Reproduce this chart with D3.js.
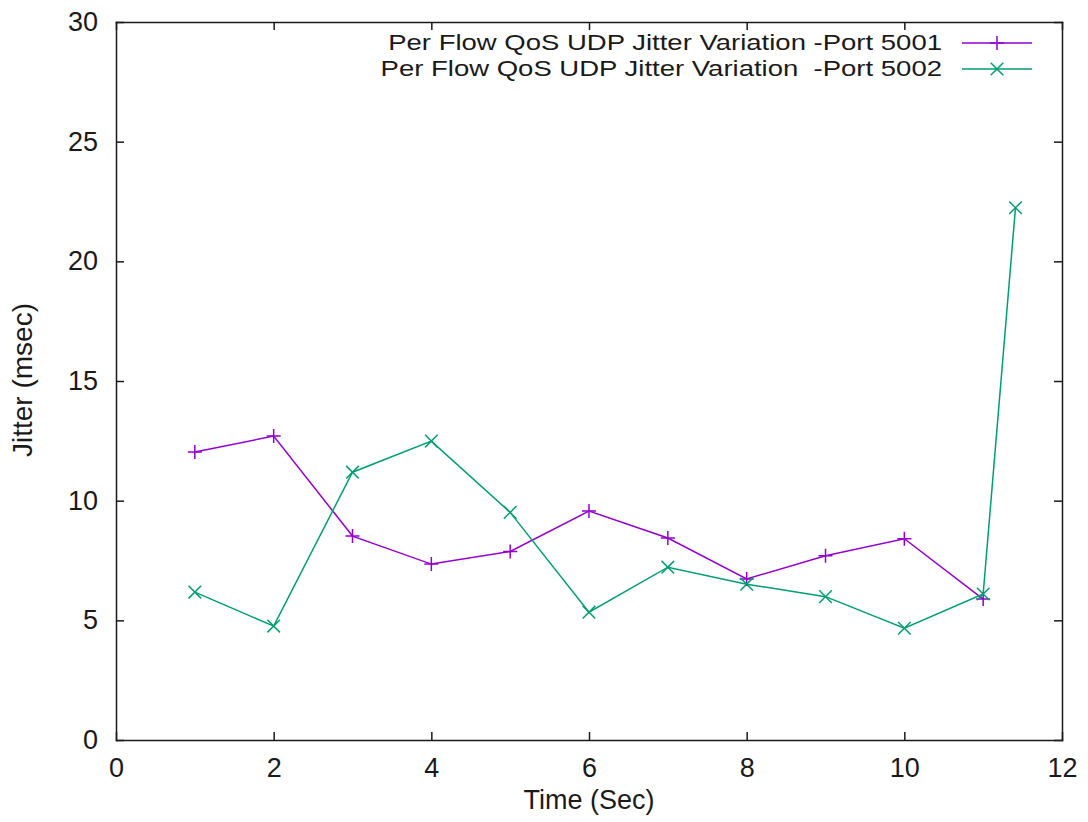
<html>
<head>
  <meta charset="utf-8">
  <title>Per Flow QoS UDP Jitter</title>
  <script src="https://d3js.org/d3.v7.min.js"></script>
  <style>
    body { margin: 0; background: #fff; }
    text { font-family: "Liberation Sans", Arial, sans-serif; fill: #1a1a1a; }
    .axis path, .axis line { stroke: #1a1a1a; stroke-width: 1.5; }
    .line { fill: none; stroke-width: 1.5; }
  </style>
</head>
<body>
  <div id="chart"></div>
  <script>
    // data
    var xTicks = [0, 2, 4, 6, 8, 10, 12];
    var yTicks = [0, 5, 10, 15, 20, 25, 30];

    var time5001 = [1, 2, 3, 4, 5, 6, 7, 8, 9, 10, 11];
    var jitter5001 = [12.03, 12.70, 8.52, 7.35, 7.88, 9.57, 8.44, 6.73, 7.70, 8.41, 5.89];

    var time5002 = [1, 2, 3, 4, 5, 6, 7, 8, 9, 10, 11, 11.41];
    var jitter5002 = [6.18, 4.76, 11.19, 12.49, 9.51, 5.34, 7.22, 6.51, 5.99, 4.67, 6.10, 22.24];

    var seriesNames = ["Per Flow QoS UDP Jitter Variation -Port 5001",
                       "Per Flow QoS UDP Jitter Variation  -Port 5002"];
    var seriesColors = ["#9400d3", "#009e73"];

    var margin = {top: 22, right: 26, bottom: 82, left: 116},
        width = 1088 - margin.left - margin.right,
        height = 822 - margin.top - margin.bottom;

    var x = d3.scaleLinear().domain([0, 12]).range([0, width]);
    var y = d3.scaleLinear().domain([0, 30]).range([height, 0]);

    var svg = d3.select("#chart")
        .append("svg")
            .attr("width", width + margin.left + margin.right)
            .attr("height", height + margin.top + margin.bottom)
        .append("g")
            .attr("transform", "translate(" + margin.left + "," + margin.top + ")");

    // axes, ticks pointing inward on all four sides
    svg.append("g")
        .attr("class", "axis")
        .attr("transform", "translate(0," + height + ")")
        .call(d3.axisBottom(x).tickValues(xTicks).tickSizeInner(-8).tickSizeOuter(0).tickPadding(18))
        .selectAll("text").style("font-size", "27px");

    svg.append("g")
        .attr("class", "axis")
        .call(d3.axisTop(x).tickValues(xTicks).tickSizeInner(-8).tickSizeOuter(0).tickFormat(""));

    svg.append("g")
        .attr("class", "axis")
        .call(d3.axisLeft(y).tickValues(yTicks).tickSizeInner(-8).tickSizeOuter(0).tickPadding(18))
        .selectAll("text").style("font-size", "27px");

    svg.append("g")
        .attr("class", "axis")
        .attr("transform", "translate(" + width + ",0)")
        .call(d3.axisRight(y).tickValues(yTicks).tickSizeInner(-8).tickSizeOuter(0).tickFormat(""));

    svg.selectAll(".axis .domain").attr("stroke-linecap", "square");

    // axis labels
    svg.append("text")
        .text("Time (Sec)")
        .attr("x", width / 2)
        .attr("y", height + 69)
        .attr("text-anchor", "middle")
        .style("font-size", "27px");

    svg.append("text")
        .text("Jitter (msec)")
        .attr("transform", "rotate(-90)")
        .attr("x", -(380 - margin.top))
        .attr("y", -84)
        .attr("text-anchor", "middle")
        .style("font-size", "28px");

    var line = d3.line()
        .x(function(d) { return x(d[0]); })
        .y(function(d) { return y(d[1]); });

    var data5001 = time5001.map(function(t, i) { return [t, jitter5001[i]]; });
    var data5002 = time5002.map(function(t, i) { return [t, jitter5002[i]]; });

    var ps = 7;
    function plus(g, px, py, color) {
      g.append("path")
        .attr("d", "M" + (px - ps) + "," + py + "H" + (px + ps) + "M" + px + "," + (py - ps) + "V" + (py + ps))
        .attr("stroke", color).attr("stroke-width", 1.5).attr("fill", "none");
    }
    function cross(g, px, py, color) {
      var s = ps * 0.9;
      g.append("path")
        .attr("d", "M" + (px - s) + "," + (py - s) + "L" + (px + s) + "," + (py + s) +
                   "M" + (px - s) + "," + (py + s) + "L" + (px + s) + "," + (py - s))
        .attr("stroke", color).attr("stroke-width", 1.5).attr("fill", "none");
    }

    svg.append("path").datum(data5001).attr("class", "line")
        .attr("stroke", seriesColors[0]).attr("d", line);
    var m1 = svg.append("g");
    data5001.forEach(function(d) { plus(m1, x(d[0]), y(d[1]), seriesColors[0]); });

    svg.append("path").datum(data5002).attr("class", "line")
        .attr("stroke", seriesColors[1]).attr("d", line);
    var m2 = svg.append("g");
    data5002.forEach(function(d) { cross(m2, x(d[0]), y(d[1]), seriesColors[1]); });

    // legend (top right, gnuplot style); text a bit shorter and stretched so rows don't collide
    var legend = svg.append("g").attr("transform", "translate(" + (942 - margin.left) + "," + (43 - margin.top) + ")");
    seriesNames.forEach(function(name, i) {
      var row = legend.append("g").attr("transform", "translate(0," + (i * 26) + ")");
      var t = row.append("text")
          .text(name)
          .attr("x", 0)
          .attr("y", 7)
          .attr("text-anchor", "end")
          .style("font-size", "27.5px")
          .style("white-space", "pre");
      var len = t.node().getComputedTextLength();
      t.style("font-size", "22.5px")
          .attr("textLength", len)
          .attr("lengthAdjust", "spacingAndGlyphs");
      row.append("line")
          .attr("x1", 20).attr("x2", 90).attr("y1", 0).attr("y2", 0)
          .attr("stroke", seriesColors[i]).attr("stroke-width", 1.5);
      if (i == 0) plus(row, 55, 0, seriesColors[i]);
      else cross(row, 55, 0, seriesColors[i]);
    });
  </script>
</body>
</html>
